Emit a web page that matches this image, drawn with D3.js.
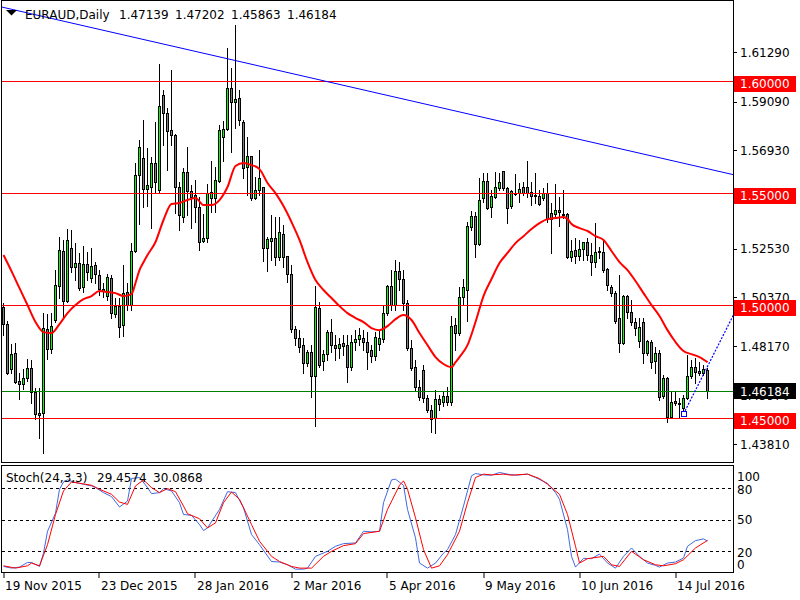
<!DOCTYPE html>
<html><head><meta charset="utf-8">
<script src="https://cdn.jsdelivr.net/npm/d3@7"></script>
<style>
html,body{margin:0;padding:0;background:#fff;}
svg{display:block;}
text{font-family:"DejaVu Sans",Verdana,sans-serif;font-size:12px;}
</style></head><body>
<svg id="c" width="800" height="600"></svg>
<script>
// ---------- data ----------
const symbol = "EURAUD,Daily";
const lastOHLC = ["1.47139","1.47202","1.45863","1.46184"];
const open = [1.4993,1.4917,1.4716,1.4788,1.4663,1.4649,1.4676,1.4721,1.4614,1.4520,
1.4520,1.4895,1.4806,1.4935,1.5086,1.5243,1.5020,1.5256,1.5171,1.5189,
1.5082,1.5185,1.5122,1.5180,1.5135,1.5064,1.5042,1.5122,1.4962,1.4997,
1.4913,1.5060,1.5002,1.5243,1.5582,1.5657,1.5519,1.5528,1.5635,1.5515,
1.5938,1.5858,1.5782,1.5760,1.5528,1.5394,1.5595,1.5510,1.5492,1.5439,
1.5287,1.5301,1.5479,1.5479,1.5555,1.5751,1.5787,1.5969,1.5907,1.5925,
1.5818,1.5617,1.5666,1.5479,1.5515,1.5528,1.5256,1.5287,1.5301,1.5216,
1.5318,1.5220,1.5140,1.4895,1.4855,1.4823,1.4743,1.4792,1.4685,1.4988,
1.4752,1.4783,1.4881,1.4823,1.4810,1.4832,1.4823,1.4725,1.4837,1.4850,
1.4855,1.4837,1.4801,1.4774,1.4828,1.4850,1.4966,1.5086,1.5002,1.5153,
1.5118,1.5011,1.4810,1.4725,1.4636,1.4712,1.4587,1.4533,1.4498,1.4582,
1.4569,1.4596,1.4569,1.4913,1.4877,1.5037,1.5069,1.5350,1.5399,1.5274,
1.5479,1.5555,1.5439,1.5483,1.5523,1.5599,1.5523,1.5443,1.5501,1.5501,
1.5528,1.5528,1.5506,1.5492,1.5488,1.5479,1.5501,1.5412,1.5408,1.5425,
1.5408,1.5408,1.5216,1.5247,1.5220,1.5252,1.5283,1.5225,1.5193,1.5243,
1.5238,1.5162,1.5082,1.5055,1.4944,1.4832,1.5042,1.4971,1.4926,1.4841,
1.4926,1.4788,1.4837,1.4752,1.4788,1.4596,1.4676,1.4502,1.4574,1.4565,
1.4542,1.4587,1.4685,1.4725,1.4707,1.4698,1.47139];
const high = [1.5011,1.4930,1.4828,1.4832,1.4698,1.4716,1.4761,1.4756,1.4632,1.4632,
1.4966,1.4962,1.4966,1.5158,1.5305,1.5292,1.5341,1.5336,1.5278,1.5234,
1.5265,1.5238,1.5256,1.5193,1.5158,1.5100,1.5140,1.5135,1.5033,1.5033,
1.5180,1.5100,1.5278,1.5635,1.5738,1.5827,1.5702,1.5661,1.5818,1.6077,
1.5961,1.5880,1.6050,1.5764,1.5550,1.5612,1.5706,1.5537,1.5559,1.5483,
1.5408,1.5541,1.5644,1.5617,1.5804,1.5822,1.6148,1.6059,1.6251,1.5961,
1.5827,1.5751,1.5666,1.5573,1.5693,1.5528,1.5305,1.5403,1.5394,1.5394,
1.5358,1.5220,1.5180,1.4908,1.4890,1.4855,1.4801,1.4823,1.5086,1.5015,
1.4801,1.4890,1.4939,1.4868,1.4855,1.4868,1.4868,1.4868,1.4890,1.4899,
1.4890,1.4881,1.4823,1.4881,1.4890,1.4997,1.5091,1.5158,1.5202,1.5193,
1.5158,1.5024,1.4846,1.4756,1.4667,1.4734,1.4600,1.4556,1.4623,1.4600,
1.4614,1.4636,1.4953,1.4944,1.5082,1.5118,1.5372,1.5421,1.5417,1.5568,
1.5590,1.5590,1.5515,1.5595,1.5590,1.5599,1.5528,1.5515,1.5586,1.5546,
1.5550,1.5644,1.5550,1.5590,1.5515,1.5523,1.5546,1.5456,1.5541,1.5483,
1.5515,1.5412,1.5292,1.5301,1.5292,1.5283,1.5301,1.5278,1.5367,1.5261,
1.5296,1.5167,1.5091,1.5064,1.5135,1.5046,1.5046,1.5024,1.4944,1.4944,
1.4944,1.4846,1.4846,1.4815,1.4801,1.4689,1.4681,1.4614,1.4614,1.4587,
1.4600,1.4779,1.4756,1.4765,1.4747,1.4734,1.47202];
const low = [1.4868,1.4694,1.4698,1.4654,1.4582,1.4627,1.4663,1.4565,1.4493,1.4409,
1.4342,1.4761,1.4788,1.4926,1.5033,1.4948,1.5015,1.5149,1.5113,1.5069,
1.5060,1.5113,1.5104,1.5100,1.5046,1.5037,1.5024,1.4944,1.4948,1.4859,
1.4864,1.4979,1.4979,1.5238,1.5363,1.5439,1.5443,1.5345,1.5506,1.5501,
1.5715,1.5604,1.5715,1.5412,1.5336,1.5372,1.5403,1.5345,1.5372,1.5247,
1.5283,1.5283,1.5417,1.5417,1.5550,1.5644,1.5782,1.5684,1.5791,1.5805,
1.5568,1.5492,1.5470,1.5474,1.5492,1.5198,1.5153,1.5202,1.5180,1.5202,
1.5171,1.5104,1.4881,1.4823,1.4792,1.4698,1.4730,1.4591,1.4462,1.4725,
1.4712,1.4756,1.4792,1.4756,1.4765,1.4779,1.4658,1.4712,1.4801,1.4823,
1.4801,1.4716,1.4747,1.4756,1.4801,1.4837,1.4957,1.4979,1.4979,1.5069,
1.4979,1.4801,1.4712,1.4623,1.4578,1.4569,1.4524,1.4435,1.4431,1.4533,
1.4551,1.4556,1.4556,1.4801,1.4868,1.5006,1.4930,1.5336,1.5216,1.5269,
1.5461,1.5430,1.5394,1.5479,1.5515,1.5515,1.5367,1.5434,1.5492,1.5461,
1.5492,1.5483,1.5448,1.5456,1.5448,1.5470,1.5372,1.5234,1.5394,1.5354,
1.5390,1.5211,1.5198,1.5189,1.5202,1.5202,1.5202,1.5135,1.5171,1.5211,
1.5149,1.5069,1.5042,1.4921,1.4792,1.4828,1.4944,1.4913,1.4868,1.4815,
1.4743,1.4779,1.4721,1.4698,1.4578,1.4587,1.4480,1.4498,1.4556,1.4502,
1.4516,1.4582,1.4676,1.4654,1.4690,1.4690,1.45863];
const close = [1.4917,1.4698,1.4783,1.4658,1.4649,1.4676,1.4721,1.4614,1.4516,1.4511,
1.4899,1.4806,1.4908,1.5091,1.5247,1.5020,1.5292,1.5171,1.5189,1.5078,
1.5185,1.5149,1.5176,1.5140,1.5073,1.5073,1.5127,1.4966,1.4997,1.4904,
1.5055,1.5002,1.5243,1.5582,1.5706,1.5519,1.5537,1.5635,1.5550,1.5889,
1.5858,1.5778,1.5760,1.5528,1.5403,1.5595,1.5510,1.5483,1.5439,1.5283,
1.5301,1.5501,1.5506,1.5559,1.5782,1.5787,1.5969,1.5907,1.5920,1.5827,
1.5613,1.5666,1.5479,1.5515,1.5568,1.5256,1.5296,1.5301,1.5216,1.5327,
1.5216,1.5140,1.4895,1.4855,1.4815,1.4743,1.4792,1.4685,1.4993,1.4734,
1.4783,1.4881,1.4823,1.4810,1.4828,1.4819,1.4725,1.4837,1.4850,1.4868,
1.4837,1.4792,1.4774,1.4859,1.4855,1.4966,1.5086,1.5002,1.5153,1.5118,
1.5011,1.4810,1.4721,1.4636,1.4591,1.4587,1.4533,1.4493,1.4582,1.4560,
1.4596,1.4569,1.4908,1.4877,1.5037,1.5082,1.5354,1.5399,1.5274,1.5470,
1.5555,1.5434,1.5488,1.5528,1.5550,1.5523,1.5434,1.5510,1.5497,1.5519,
1.5501,1.5501,1.5488,1.5488,1.5452,1.5501,1.5385,1.5385,1.5425,1.5417,
1.5403,1.5216,1.5243,1.5220,1.5252,1.5283,1.5225,1.5193,1.5238,1.5238,
1.5158,1.5091,1.5055,1.4930,1.4832,1.5042,1.4971,1.4926,1.4899,1.4904,
1.4788,1.4841,1.4747,1.4788,1.4591,1.4676,1.4502,1.4569,1.4565,1.4560,
1.4587,1.4685,1.4725,1.4703,1.4698,1.4716,1.46184];

// moving average, read at sampled bars
const maBars = [0,2,4,6,8,10,12,14,16,18,20,22,24,26,28,30,32,33,34,35,36,38,40,42,44,46,48,50,52,54,56,58,60,62,64,66,68,70,72,74,76,78,80,82,84,86,88,90,92,94,96,98,100,102,104,106,108,110,112,113,114,116,118,120,122,124,126,128,130,132,134,136,138,140,141,142,144,146,148,150,152,154,156,158,160,162,164,166,168,170,172,174,176];
const maValues = [1.5225,1.5153,1.5077,1.5002,1.4926,1.4881,1.4877,1.4917,1.4966,1.5002,1.5028,1.5042,1.5064,1.5060,1.5055,1.5042,1.5051,1.5100,1.5158,1.5193,1.5225,1.5283,1.5381,1.5452,1.5457,1.5470,1.5479,1.5448,1.5448,1.5470,1.5528,1.5622,1.5635,1.5626,1.5608,1.5546,1.5501,1.5443,1.5372,1.5292,1.5193,1.5113,1.5069,1.5033,1.4997,1.4966,1.4944,1.4926,1.4899,1.4890,1.4908,1.4939,1.4957,1.4935,1.4877,1.4823,1.4770,1.4739,1.4725,1.4747,1.4770,1.4823,1.4926,1.5042,1.5118,1.5189,1.5234,1.5278,1.5309,1.5341,1.5367,1.5385,1.5390,1.5394,1.5385,1.5363,1.5345,1.5332,1.5309,1.5292,1.5243,1.5193,1.5158,1.5109,1.5055,1.5002,1.4953,1.4890,1.4837,1.4797,1.4783,1.4770,1.4747];

// stochastic (24,3,3) main and signal, read at sampled bars
const kBars = [0,2,4,6,7,9,10,11,13,14,15,16,18,20,22,23,25,27,29,31,32,34,36,37,39,40,42,44,45,47,49,50,51,54,56,58,60,62,64,67,69,71,73,75,76,78,81,83,85,88,90,92,94,95,97,98,100,101,103,104,106,108,110,111,113,115,116,117,118,120,122,124,126,128,131,133,136,138,139,141,142,143,145,147,149,151,153,155,157,159,161,163,164,166,168,170,171,173,175,176];
const kValues = [5.3,3.7,4.7,9.1,9.1,5.3,18,38.8,56,78.8,85.8,87.7,85.2,83.6,82,80.4,75.6,71.8,61.9,67.6,89,90,80.4,74.6,75.6,79.4,77.2,66,54.8,53.9,45.2,39.5,42,59.6,76.5,75.6,61.2,35.7,26,10,9.5,6.9,2.7,2.7,3.7,14.9,19.7,24.5,27,27.7,38.8,38.2,38.8,66,87.7,88.4,82.6,59.6,32.5,8.5,3.7,8.5,18,21.3,35.7,62.8,77.2,91.6,93.8,92.5,92.2,94.8,93.2,92.2,93.2,90,84.5,75.6,69.2,40.4,14.9,4.7,13,12.7,17.1,8.5,3.7,14.9,22.9,14.9,8.5,6.3,4.7,8.5,9.5,13.3,24.5,29.9,31.5,29.4574];
const dBars = [0,3,6,7,9,11,13,15,17,19,22,24,27,29,31,33,35,37,39,41,43,45,46,49,51,53,55,57,59,62,64,67,69,72,74,77,80,82,85,88,90,94,96,99,100,101,103,105,107,109,111,114,116,118,120,122,125,127,131,134,136,139,141,143,144,146,150,152,154,157,160,163,165,168,170,173,176];
const dValues = [5.9,3.7,5.9,8.5,5.9,26,54.8,77.2,85.8,84.5,82.6,78.8,74,66.6,64.4,82,87.7,80.4,75.6,79.4,76.5,62.8,55.5,50.7,42,46.8,66,76.2,69.2,45.2,29.3,14.9,10,5.3,3.7,3.7,14.9,19.7,25.1,27,36.6,38.8,59.6,82.6,86.8,78.8,51.6,21.3,3.7,5.9,16.5,38.8,66,90,93.2,92.5,93.2,92.2,93.2,89,83.6,74,54.8,24.5,8.5,12.7,14.9,6.9,5.3,19.7,11.7,6.9,5.9,7.9,11.7,22.9,30.0868];
const stochTitle = "Stoch(24,3,3)";
const stochLast = ["29.4574","30.0868"];

const levels = [1.60, 1.55, 1.50, 1.45];
const bidPrice = 1.46184;
const priceTicks = [1.61290,1.59090,1.56930,1.54730,1.52530,1.50370,1.48170,1.45970,1.43810];
const stochLevels = [80, 50, 20];
const stochTickLabels = ["100","80","50","20","0"];
const dateBars = [0,24,48,72,96,120,144,168];
const dateLabels = ["19 Nov 2015","23 Dec 2015","28 Jan 2016","2 Mar 2016","5 Apr 2016","9 May 2016","10 Jun 2016","14 Jul 2016"];
// trend lines: [bar, price]
const trendA = [[-1, 1.6333],[182.5, 1.5583]];
const trendB = [[170, 1.4516],[182.5, 1.4958]];

// ---------- drawing ----------
const svg = d3.select('#c');
const defs = svg.append('defs');
defs.append('clipPath').attr('id','cm').append('rect').attr('x',2).attr('y',1).attr('width',731).attr('height',461);
defs.append('clipPath').attr('id','cs').append('rect').attr('x',2).attr('y',466).attr('width',731).attr('height',106);

const x = d3.scaleLinear().domain([0,176]).range([3.5,707.5]);
const y = d3.scaleLinear().domain([1.4302,1.6362]).range([462,0]);
const ys = d3.scaleLinear().domain([0,100]).range([572,467]);
const hp = v => Math.round(v)+0.5;

const BULL = '#00ff00', BEAR = '#808080';

const main = svg.append('g').attr('clip-path','url(#cm)');
const idx = d3.range(open.length);

// wicks
main.append('g').selectAll('line').data(idx).enter().append('line')
  .attr('x1', i=>x(i)).attr('x2', i=>x(i))
  .attr('y1', i=>Math.round(y(high[i]))).attr('y2', i=>Math.round(y(low[i]))+1)
  .attr('stroke','#000').attr('stroke-width',1);
// bodies
const bodies = main.append('g');
idx.forEach(i=>{
  const o=open[i], c=close[i];
  const t=Math.round(y(Math.max(o,c))), b=Math.round(y(Math.min(o,c)));
  if (b-t < 1) {
    bodies.append('line').attr('x1',x(i)-1.5).attr('x2',x(i)+1.5).attr('y1',t+0.5).attr('y2',t+0.5).attr('stroke','#000');
  } else {
    bodies.append('rect').attr('x',x(i)-1).attr('y',t+0.5).attr('width',2).attr('height',b-t)
      .attr('fill', c>o?BULL:BEAR).attr('stroke','#000').attr('stroke-width',1);
  }
});

// horizontal levels
main.append('g').selectAll('line').data(levels).enter().append('line')
  .attr('x1',2).attr('x2',733).attr('y1',d=>hp(y(d))).attr('y2',d=>hp(y(d)))
  .attr('stroke','#ff0000').attr('stroke-width',1);
main.append('line').attr('x1',2).attr('x2',733).attr('y1',hp(y(bidPrice))).attr('y2',hp(y(bidPrice)))
  .attr('stroke','#008000').attr('stroke-width',1);

// moving average
const maData = maBars.map((b,i)=>[b,maValues[i]]);
main.append('path').datum(maData)
  .attr('d', d3.line().x(d=>x(d[0])).y(d=>y(d[1])).curve(d3.curveMonotoneX))
  .attr('fill','none').attr('stroke','#ff0000').attr('stroke-width',2);

// trend lines
main.append('line').attr('x1',x(trendA[0][0])).attr('y1',y(trendA[0][1]))
  .attr('x2',x(trendA[1][0])).attr('y2',y(trendA[1][1]))
  .attr('stroke','#0000ff').attr('stroke-width',1);
main.append('line').attr('x1',x(trendB[0][0])).attr('y1',y(trendB[0][1]))
  .attr('x2',x(trendB[1][0])).attr('y2',y(trendB[1][1]))
  .attr('stroke','#0000ff').attr('stroke-width',1.2).attr('stroke-dasharray','2,1.5');
main.append('rect').attr('x',Math.round(x(trendB[0][0]))-2.5).attr('y',Math.round(y(trendB[0][1]))-2.5)
  .attr('width',5).attr('height',5).attr('fill','#fff').attr('stroke','#0000ff');

// stochastic panel
const st = svg.append('g').attr('clip-path','url(#cs)');
st.append('g').selectAll('line').data(stochLevels).enter().append('line')
  .attr('x1',2).attr('x2',733).attr('y1',d=>hp(ys(d))).attr('y2',d=>hp(ys(d)))
  .attr('stroke','#000').attr('stroke-dasharray','3,3');
const sl = d3.line().x(d=>x(d[0])).y(d=>ys(d[1]));
st.append('path').datum(kBars.map((b,i)=>[b,kValues[i]])).attr('d',sl)
  .attr('fill','none').attr('stroke','#4169e1').attr('stroke-width',1);
st.append('path').datum(dBars.map((b,i)=>[b,dValues[i]])).attr('d',sl)
  .attr('fill','none').attr('stroke','#ff0000').attr('stroke-width',1);

// frames
svg.append('rect').attr('x',1.5).attr('y',0.5).attr('width',732).attr('height',462).attr('fill','none').attr('stroke','#000');
svg.append('rect').attr('x',1.5).attr('y',465.5).attr('width',732).attr('height',107).attr('fill','none').attr('stroke','#000');

// price axis
const pa = svg.append('g');
priceTicks.forEach(p=>{
  const yy = y(p);
  pa.append('line').attr('x1',733).attr('x2',737).attr('y1',hp(yy)).attr('y2',hp(yy)).attr('stroke','#000');
  pa.append('text').attr('x',740).attr('y',yy+4.5).attr('fill','#000').text(p.toFixed(5));
});
levels.forEach(p=>{
  const yy = Math.round(y(p));
  pa.append('rect').attr('x',734).attr('y',yy-5).attr('width',62).attr('height',16).attr('fill','#ff0000');
  pa.append('text').attr('x',740).attr('y',yy+7).attr('fill','#fff').text(p.toFixed(5));
});
{
  const yy = Math.round(y(bidPrice));
  pa.append('rect').attr('x',734).attr('y',yy-8).attr('width',62).attr('height',16).attr('fill','#000');
  pa.append('text').attr('x',740).attr('y',yy+4.5).attr('fill','#fff').text(bidPrice.toFixed(5));
}

// stoch axis labels
const sLabelY = [481, 493.5, 524, 556.5, 568.5];
stochTickLabels.forEach((t,i)=>{
  svg.append('text').attr('x',737).attr('y',sLabelY[i]).attr('fill','#000').text(t);
});

// date axis
dateBars.forEach((b,i)=>{
  svg.append('line').attr('x1',hp(x(b))-0.5).attr('x2',hp(x(b))-0.5).attr('y1',573).attr('y2',578).attr('stroke','#000');
  svg.append('text').attr('x',x(b)+1.5).attr('y',590).attr('fill','#000').text(dateLabels[i]);
});

// titles
svg.append('path').attr('d','M6,10 L17,10 L11.5,15.5 Z').attr('fill','#000');
svg.append('text').attr('x',25).attr('y',19).text(symbol);
[119,175,231,287].forEach((xx,i)=> svg.append('text').attr('x',xx).attr('y',19).text(lastOHLC[i]));
svg.append('text').attr('x',6).attr('y',482).text(stochTitle);
svg.append('text').attr('x',97).attr('y',482).text(stochLast[0]);
svg.append('text').attr('x',153).attr('y',482).text(stochLast[1]);
</script>
</body></html>
